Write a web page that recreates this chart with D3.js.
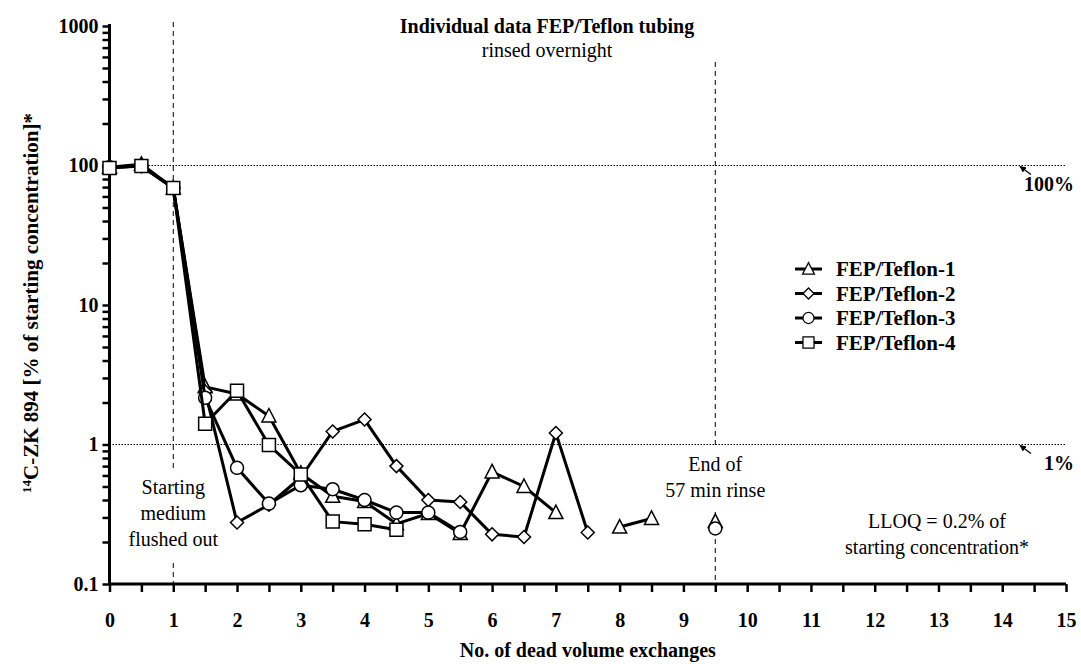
<!DOCTYPE html>
<html>
<head>
<meta charset="utf-8">
<script src="https://cdn.jsdelivr.net/npm/d3@7"></script>
<style>
  body { margin: 0; background: #fff; }
  svg, svg text { font-family: "Liberation Serif", "DejaVu Serif", "Times New Roman", Times, serif !important; }
</style>
</head>
<body>
<script>
// data
var xVals = [0, 0.5, 1, 1.5, 2, 2.5, 3, 3.5, 4, 4.5, 5, 5.5, 6, 6.5, 7, 7.5, 8, 8.5, 9, 9.5];
var teflon1 = [97, 102, 69, 2.59, 2.3, 1.6, 0.62, 0.425, 0.39, 0.27, 0.32, 0.23, 0.636, 0.5, 0.325, null, 0.256, 0.295, null, 0.28];
var teflon2 = [97, 99, 69, 2.4, 0.276, 0.37, 0.58, 1.24, 1.51, 0.70, 0.40, 0.387, 0.227, 0.217, 1.21, 0.234, null, null, null, null];
var teflon3 = [97, 99, 69, 2.16, 0.68, 0.377, 0.51, 0.478, 0.40, 0.325, 0.325, 0.236, null, null, null, null, null, null, null, 0.25];
var teflon4 = [96, 99, 69, 1.41, 2.43, 0.99, 0.61, 0.28, 0.268, 0.245, null, null, null, null, null, null, null, null, null, null];
var seriesNames = ["FEP/Teflon-1", "FEP/Teflon-2", "FEP/Teflon-3", "FEP/Teflon-4"];
var seriesShapes = ["triangle", "diamond", "circle", "square"];
var yMajor = [0.1, 1, 10, 100, 1000];
var xTickLabels = [0, 1, 2, 3, 4, 5, 6, 7, 8, 9, 10, 11, 12, 13, 14, 15];
var refLines = [100, 1];
var refLabels = ["100%", "1%"];

var width = 1081, height = 664;
var margin = {top: 26, right: 15, bottom: 80, left: 109.5};
var serif = "Liberation Serif, DejaVu Serif, Times New Roman, serif";

var svg = d3.select("body").append("svg")
  .attr("width", width)
  .attr("height", height)
  .attr("font-family", serif);

var x = d3.scaleLinear().domain([0, 15]).range([margin.left, width - margin.right]);
var y = d3.scaleLog().domain([0.1, 1000]).range([height - margin.bottom, margin.top]);

// minor ticks for log axis
var yTicks = [];
yMajor.slice(0, 4).forEach(function(d) {
  for (var i = 1; i < 10; i++) yTicks.push(+(d * i).toPrecision(3));
});
yTicks.push(1000);

// reference lines 100% and 1%
svg.selectAll(".ref")
  .data(refLines)
  .enter().append("line")
    .attr("x1", x(0)).attr("x2", x(15))
    .attr("y1", d => y(d)).attr("y2", d => y(d))
    .attr("stroke", "#000")
    .attr("stroke-width", 1)
    .attr("stroke-dasharray", "1.5,1.5");

// vertical dashed lines
function vdash(xv, y1, y2) {
  svg.append("line")
    .attr("x1", x(xv)).attr("x2", x(xv))
    .attr("y1", y1).attr("y2", y2)
    .attr("stroke", "#000")
    .attr("stroke-width", 1)
    .attr("stroke-dasharray", "5,4");
}
vdash(1, 22, 470);
vdash(1, 563, y(0.1));
vdash(9.5, 62, 445);
vdash(9.5, 512, y(0.1));

// axes
var yAxis = svg.append("g")
  .attr("transform", "translate(" + x(0) + ",0)")
  .call(d3.axisLeft(y).tickValues(yTicks).tickSize(7).tickPadding(4)
    .tickFormat(d => yMajor.indexOf(d) >= 0 ? String(d) : ""));

var xAxis = svg.append("g")
  .attr("transform", "translate(0," + y(0.1) + ")")
  .call(d3.axisBottom(x).tickValues(d3.range(0, 15.5, 0.5)).tickSize(8).tickPadding(21)
    .tickFormat(d => xTickLabels.indexOf(d) >= 0 ? String(d) : ""));

[yAxis, xAxis].forEach(function(a) {
  a.attr("font-family", serif);
  a.select(".domain").remove();
  a.selectAll(".tick line").attr("stroke-width", 2.5);
  a.selectAll(".tick text")
    .attr("font-size", 20).attr("font-weight", "bold");
});
svg.append("line")
  .attr("x1", x(0)).attr("x2", x(0)).attr("y1", y(1000) - 2).attr("y2", y(0.1))
  .attr("stroke", "#000").attr("stroke-width", 3);
svg.append("line")
  .attr("x1", x(0)).attr("x2", x(15)).attr("y1", y(0.1)).attr("y2", y(0.1))
  .attr("stroke", "#000").attr("stroke-width", 3);

// marker shapes
function shapePath(s) {
  if (s == "triangle") return "M0,-7.5L7,6L-7,6Z";
  if (s == "diamond") return "M0,-6.5L6.5,0L0,6.5L-6.5,0Z";
  if (s == "square") return "M-6.5,-6.5H6.5V6.5H-6.5Z";
  return d3.symbol().type(d3.symbolCircle).size(Math.PI * 6.5 * 6.5)();
}

var allSeries = [teflon1, teflon2, teflon3, teflon4];
var line = d3.line()
  .defined(d => d.v != null)
  .x(d => x(d.x))
  .y(d => y(d.v));

allSeries.forEach(function(vals, i) {
  var pts = xVals.map((xv, j) => ({x: xv, v: vals[j]}));
  var g = svg.append("g");
  g.append("path")
    .attr("d", line(pts))
    .attr("fill", "none")
    .attr("stroke", "#000")
    .attr("stroke-width", 3)
    .attr("stroke-linejoin", "round");
  g.selectAll("path.m")
    .data(pts.filter(d => d.v != null))
    .enter().append("path")
      .attr("class", "m")
      .attr("d", shapePath(seriesShapes[i]))
      .attr("transform", d => "translate(" + x(d.x) + "," + y(d.v) + ")")
      .attr("fill", "#fff")
      .attr("stroke", "#000")
      .attr("stroke-width", 1.5);
});

// legend
var legend = svg.append("g");
seriesNames.forEach(function(name, i) {
  var ly = 269 + i * 24.5;
  legend.append("line")
    .attr("x1", 795).attr("x2", 822).attr("y1", ly).attr("y2", ly)
    .attr("stroke", "#000").attr("stroke-width", 3);
  legend.append("path")
    .attr("d", shapePath(seriesShapes[i]))
    .attr("transform", "translate(808.5," + ly + ") scale(0.85)")
    .attr("fill", "#fff").attr("stroke", "#000").attr("stroke-width", 1.5);
  legend.append("text")
    .attr("x", 836).attr("y", ly).attr("dy", "0.35em")
    .attr("font-size", 21).attr("font-weight", "bold")
    .text(name);
});

// 100% / 1% labels with little arrows
svg.append("defs").append("marker")
  .attr("id", "arr")
  .attr("viewBox", "0 0 10 10")
  .attr("refX", 9).attr("refY", 5)
  .attr("markerWidth", 5).attr("markerHeight", 5)
  .attr("orient", "auto")
  .append("path").attr("d", "M0,0L10,5L0,10Z").attr("fill", "#000");

refLines.forEach(function(d, i) {
  var yy = y(d);
  svg.append("line")
    .attr("x1", 1031).attr("y1", yy + 9)
    .attr("x2", 1020).attr("y2", yy + 1)
    .attr("stroke", "#000").attr("stroke-width", 1.3)
    .attr("marker-end", "url(#arr)");
  svg.append("text")
    .attr("x", 1074).attr("y", yy + 25)
    .attr("text-anchor", "end")
    .attr("font-size", 20).attr("font-weight", "bold")
    .text(refLabels[i]);
});

// titles and notes
svg.append("text")
  .attr("x", 547).attr("y", 33)
  .attr("text-anchor", "middle")
  .attr("font-size", 20).attr("font-weight", "bold")
  .text("Individual data FEP/Teflon tubing");
svg.append("text")
  .attr("x", 547).attr("y", 57)
  .attr("text-anchor", "middle")
  .attr("font-size", 20)
  .text("rinsed overnight");

function note(lines, cx, y0, dy) {
  var t = svg.append("text")
    .attr("text-anchor", "middle")
    .attr("font-size", 20);
  lines.forEach(function(s, i) {
    t.append("tspan").attr("x", cx).attr("y", y0 + i * dy).text(s);
  });
}
note(["Starting", "medium", "flushed out"], x(1), 494, 26);
note(["End of", "57 min rinse"], x(9.5), 471, 26);
note(["LLOQ = 0.2% of", "starting concentration*"], 937, 528, 26);

// axis titles
svg.append("text")
  .attr("x", (x(0) + x(15)) / 2).attr("y", 657)
  .attr("text-anchor", "middle")
  .attr("font-size", 20).attr("font-weight", "bold")
  .text("No. of dead volume exchanges");

var yl = svg.append("text")
  .attr("transform", "translate(38,303) rotate(-90)")
  .attr("text-anchor", "middle")
  .attr("font-size", 21).attr("font-weight", "bold");
yl.append("tspan").attr("font-size", 13).attr("dy", -7).text("14");
yl.append("tspan").attr("dy", 7).text("C-ZK 894 [% of starting concentration]*");
</script>
</body>
</html>
